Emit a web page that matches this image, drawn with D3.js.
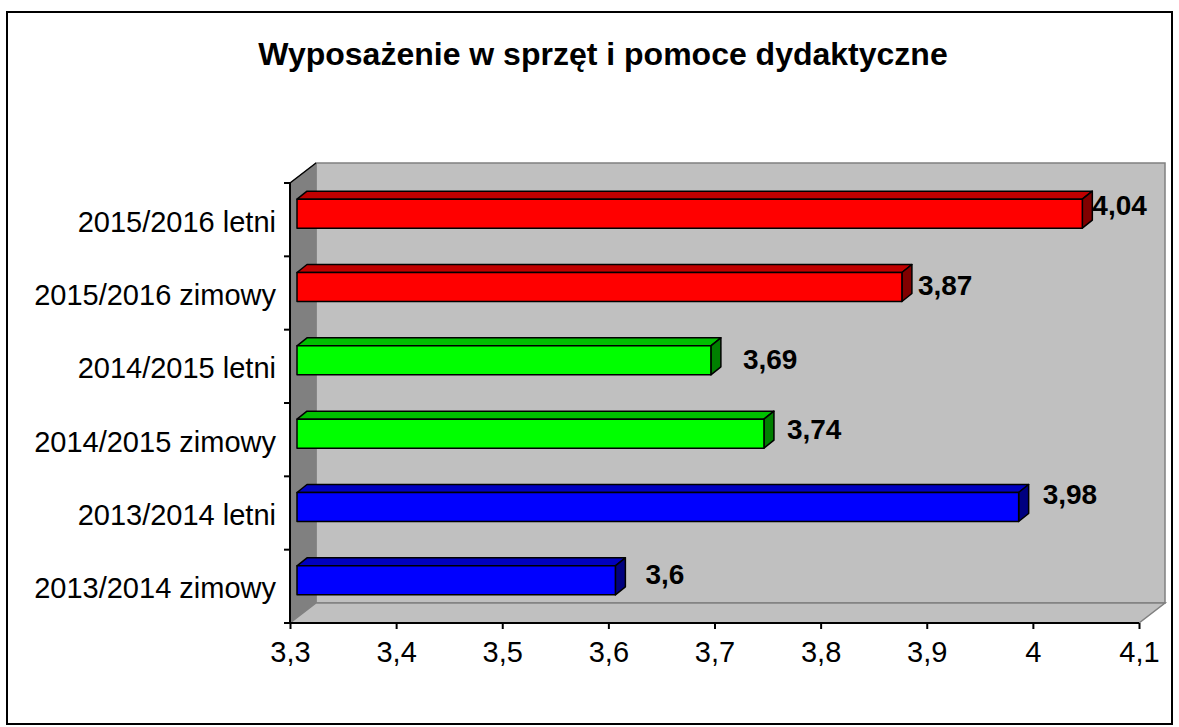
<!DOCTYPE html>
<html><head><meta charset="utf-8">
<script src="https://cdn.jsdelivr.net/npm/d3@7"></script>
<style>body{margin:0;background:#fff}svg{display:block;font-family:"Liberation Sans",Arial,sans-serif}</style>
</head><body>
<svg id="c" width="1179" height="727"></svg>
<script>
const title = "Wyposażenie w sprzęt i pomoce dydaktyczne";
const categories = ["2015/2016 letni","2015/2016 zimowy","2014/2015 letni","2014/2015 zimowy","2013/2014 letni","2013/2014 zimowy"];
const values = [4.04, 3.87, 3.69, 3.74, 3.98, 3.6];
const seriesIndex = [0, 0, 1, 1, 2, 2];
const tickValues = [3.3, 3.4, 3.5, 3.6, 3.7, 3.8, 3.9, 4.0, 4.1];

// styling / layout
const palette = [
  {front:"#ff0000", top:"#c00000", side:"#800000"},
  {front:"#00ff00", top:"#00c000", side:"#008000"},
  {front:"#0000ff", top:"#0000c0", side:"#000080"}
];
const labelNudge = [[0,-6],[6,1],[22,2],[13,-2],[14,-10],[20,-3]];

const svg = d3.select("#c");
const fmt = v => String(v).replace(".", ",");

const plot = {left:290, right:1139, top:183, bottom:623};
const wall = {dx:26, dy:-20};
const barOff = {dx:7, dy:-6};
const barDepth = {dx:10, dy:-8};
const barH = 29;

const x = d3.scaleLinear().domain([3.3, 4.1]).range([plot.left, plot.right]);
const y = d3.scaleBand().domain(categories).range([plot.top, plot.bottom]);

// outer frame
svg.append("rect").attr("x",7).attr("y",12).attr("width",1165).attr("height",712)
  .attr("fill","#fff").attr("stroke","#000").attr("stroke-width",2);

// title
svg.append("text").attr("x",603).attr("y",65).attr("text-anchor","middle")
  .attr("font-size",32).attr("font-weight","bold").text(title);

const pts = a => a.map(p => p.join(",")).join(" ");
// back wall
svg.append("rect").attr("x",plot.left+wall.dx).attr("y",plot.top+wall.dy)
  .attr("width",plot.right-plot.left).attr("height",plot.bottom-plot.top)
  .attr("fill","#c0c0c0").attr("stroke","#808080").attr("stroke-width",1.5);
// left side wall
svg.append("polygon").attr("points",pts([[plot.left,plot.top],[plot.left+wall.dx,plot.top+wall.dy],[plot.left+wall.dx,plot.bottom+wall.dy],[plot.left,plot.bottom]]))
  .attr("fill","#808080").attr("stroke","#808080").attr("stroke-width",1);
// floor
svg.append("polygon").attr("points",pts([[plot.left,plot.bottom],[plot.left+wall.dx,plot.bottom+wall.dy],[plot.right+wall.dx,plot.bottom+wall.dy],[plot.right,plot.bottom]]))
  .attr("fill","#c0c0c0").attr("stroke","#808080").attr("stroke-width",1.5);
// top-left diagonal edge
svg.append("line").attr("x1",plot.left).attr("y1",plot.top).attr("x2",plot.left+wall.dx).attr("y2",plot.top+wall.dy)
  .attr("stroke","#000").attr("stroke-width",1.5);

// axes lines
svg.append("line").attr("x1",plot.left).attr("y1",plot.top).attr("x2",plot.left).attr("y2",plot.bottom).attr("stroke","#000").attr("stroke-width",2);
svg.append("line").attr("x1",plot.left).attr("y1",plot.bottom).attr("x2",plot.right).attr("y2",plot.bottom).attr("stroke","#000").attr("stroke-width",2);

// x axis
const xAxis = d3.axisBottom(x).tickValues(tickValues).tickSize(6).tickPadding(12).tickFormat(d => fmt(+d.toFixed(1)));
const gx = svg.append("g").attr("transform",`translate(0,${plot.bottom})`).call(xAxis);
gx.select(".domain").remove();
gx.selectAll(".tick line").attr("stroke","#000").attr("stroke-width",2);
gx.selectAll(".tick text").attr("font-size",29).attr("fill","#000").attr("font-family","Liberation Sans, Arial, sans-serif");

// y category ticks at band boundaries
const bounds = categories.map(c => y(c)).concat([plot.bottom]);
svg.selectAll(".ytick").data(bounds).join("line")
  .attr("x1",plot.left-6).attr("x2",plot.left).attr("y1",d=>d).attr("y2",d=>d)
  .attr("stroke","#000").attr("stroke-width",2);
svg.selectAll(".ylab").data(categories).join("text")
  .attr("x",276).attr("y",d => y(d)+y.bandwidth()/2+12)
  .attr("text-anchor","end").attr("font-size",29).text(d=>d);

// bars
const bars = svg.append("g");
categories.forEach((c,i) => {
  const col = palette[seriesIndex[i]];
  const x0 = x(3.3) + barOff.dx, x1 = x(values[i]) + barOff.dx;
  const yc = y(c) + y.bandwidth()/2 + barOff.dy;
  const y0 = yc - barH/2, y1 = yc + barH/2;
  const g = bars.append("g").attr("stroke","#000").attr("stroke-width",1.5).attr("stroke-linejoin","round");
  g.append("polygon").attr("points",pts([[x0,y0],[x0+barDepth.dx,y0+barDepth.dy],[x1+barDepth.dx,y0+barDepth.dy],[x1,y0]])).attr("fill",col.top);
  g.append("polygon").attr("points",pts([[x1,y0],[x1+barDepth.dx,y0+barDepth.dy],[x1+barDepth.dx,y1+barDepth.dy],[x1,y1]])).attr("fill",col.side);
  g.append("rect").attr("x",x0).attr("y",y0).attr("width",x1-x0).attr("height",barH).attr("fill",col.front);
  svg.append("text").attr("x",x1+barDepth.dx+labelNudge[i][0]).attr("y",y(c)+y.bandwidth()/2+labelNudge[i][1]+1)
    .attr("font-size",28).attr("font-weight","bold").text(fmt(values[i]));
});
</script>
</body></html>
